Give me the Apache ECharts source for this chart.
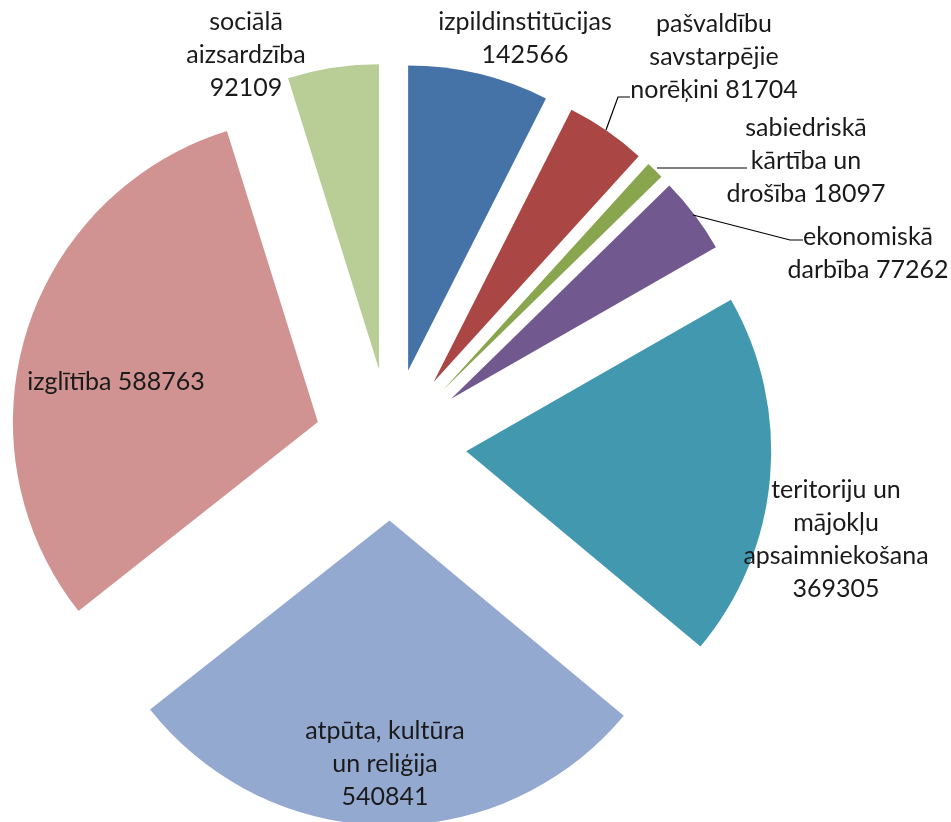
<!DOCTYPE html>
<html>
<head>
<meta charset="utf-8">
<script src="https://cdn.jsdelivr.net/npm/echarts@6/dist/echarts.min.js"></script>
<style>html,body{margin:0;padding:0;background:#fff}#c{width:951px;height:822px}</style>
</head>
<body>
<div id="c"></div>
<script>
var categories = ['izpildinstitūcijas', 'pašvaldību\nsavstarpējie\nnorēķini', 'sabiedriskā\nkārtība un\ndrošība', 'ekonomiskā\ndarbība', 'teritoriju un\nmājokļu\napsaimniekošana', 'atpūta, kultūra\nun reliģija', 'izglītība', 'sociālā\naizsardzība'];
var values = [142566, 81704, 18097, 77262, 369305, 540841, 588763, 92109];
var separators = ['\n', ' ', ' ', ' ', '\n', '\n', ' ', '\n'];
var colors = ['#4572A7', '#AA4643', '#89A54E', '#71588F', '#4198AF', '#94A9D0', '#D09392', '#B9CD96'];

var labelPos = [[525, 38], [714, 57], [806, 161], [868, 253], [836, 539], [385, 764], [116, 382], [246, 55]];
var linePts = {
  1: [[606, 130], [618, 97], [630, 97]],
  2: [[657, 168], [747, 168]],
  3: [[693, 215], [790, 240], [803, 240]]
};

var sliceData = categories.map(function (n, i) {
  return { name: n, value: values[i], selected: true, itemStyle: { color: colors[i] } };
});
var labelData = categories.map(function (n, i) {
  return { name: n, value: values[i], labelLine: { show: !!linePts[i] } };
});

var common = {
  type: 'pie',
  center: [390.5, 444.5],
  radius: 305,
  startAngle: 90,
  clockwise: true,
  avoidLabelOverlap: false,
  emphasis: { disabled: true },
  animation: false
};

var chart = echarts.init(document.getElementById('c'));
chart.setOption({
  animation: false,
  series: [
    Object.assign({}, common, {
      selectedMode: 'multiple',
      selectedOffset: 76,
      select: { itemStyle: {} },
      label: { show: false },
      labelLine: { show: false },
      data: sliceData
    }),
    Object.assign({}, common, {
      silent: true,
      z: 5,
      itemStyle: { color: 'rgba(0,0,0,0)' },
      label: {
        show: true,
        position: 'outside',
        fontFamily: 'Lato',
        fontSize: 25,
        lineHeight: 33,
        color: '#1a1a1a',
        align: 'center',
        formatter: function (p) { return p.name + separators[p.dataIndex] + p.value; }
      },
      labelLine: { lineStyle: { color: '#000', width: 1.2 } },
      labelLayout: function (p) {
        var pos = labelPos[p.dataIndex];
        var r = { x: pos[0], y: pos[1], align: 'center', verticalAlign: 'middle' };
        if (linePts[p.dataIndex]) r.labelLinePoints = linePts[p.dataIndex];
        return r;
      },
      data: labelData
    })
  ]
});
</script>
</body>
</html>
